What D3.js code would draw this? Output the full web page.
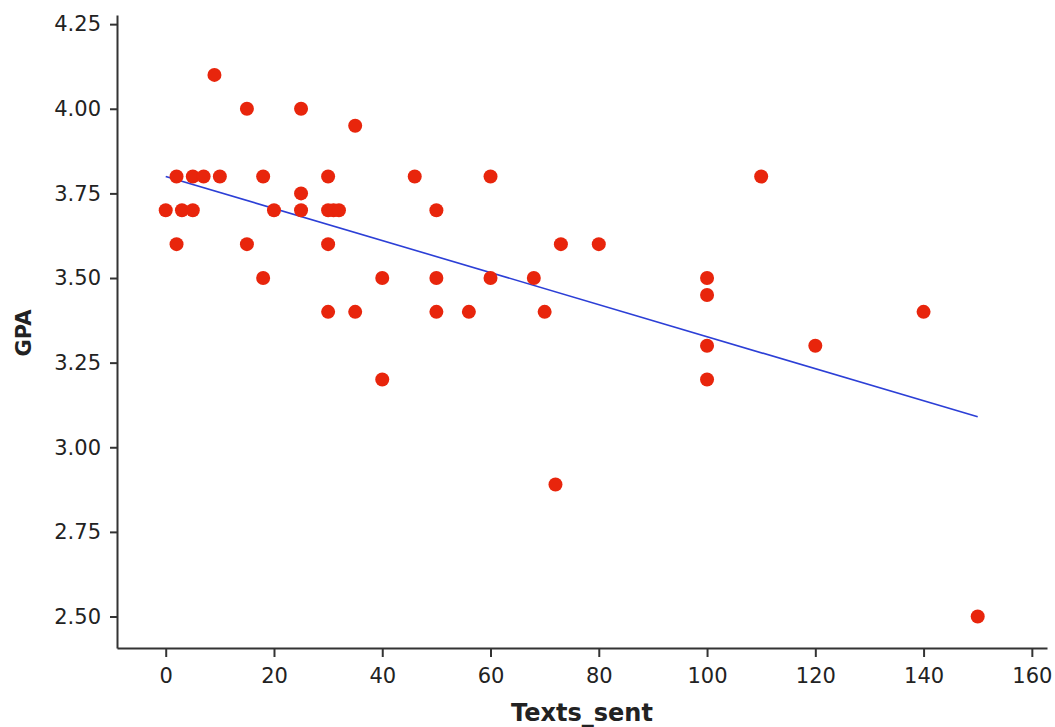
<!DOCTYPE html>
<html>
<head>
<meta charset="utf-8">
<script src="https://cdn.jsdelivr.net/npm/d3@7"></script>
<style>
  body { margin: 0; background: #fff; }
  text { font-family: "DejaVu Sans", Verdana, sans-serif; fill: #222; }
</style>
</head>
<body>
<svg id="chart" width="1055" height="727"></svg>
<script>
// data
let textsSent = [0, 2, 2, 3, 5, 5, 7, 9, 10, 15, 15, 18, 18, 20, 25, 25, 25, 30, 30, 31, 32, 30, 30,
                 35, 35, 40, 40, 46, 50, 50, 50, 56, 60, 60, 68, 70, 72, 73, 80,
                 100, 100, 100, 100, 110, 120, 140, 150];
let gpa = [3.70, 3.80, 3.60, 3.70, 3.80, 3.70, 3.80, 4.10, 3.80, 4.00, 3.60, 3.80, 3.50, 3.70, 4.00, 3.75, 3.70, 3.80, 3.70, 3.70, 3.70, 3.60, 3.40,
           3.95, 3.40, 3.50, 3.20, 3.80, 3.70, 3.50, 3.40, 3.40, 3.80, 3.50, 3.50, 3.40, 2.89, 3.60, 3.60,
           3.50, 3.45, 3.30, 3.20, 3.80, 3.30, 3.40, 2.50];
let fitX = [0, 150];
let fitY = [3.80, 3.09];
let xTicks = [0, 20, 40, 60, 80, 100, 120, 140, 160];
let yTicks = [2.50, 2.75, 3.00, 3.25, 3.50, 3.75, 4.00, 4.25];

let svg = d3.select("#chart");

let x = d3.scaleLinear().domain([-9, 162.8]).range([117, 1047]);
let y = d3.scaleLinear().domain([2.407, 4.277]).range([648, 15]);

let xAxis = svg.append("g")
    .attr("transform", "translate(0,648)")
    .call(d3.axisBottom(x).tickValues(xTicks).tickSize(9).tickPadding(11).tickSizeOuter(0));
let yAxis = svg.append("g")
    .attr("transform", "translate(117,0)")
    .call(d3.axisLeft(y).tickValues(yTicks).tickFormat(d3.format(".2f")).tickSize(7).tickPadding(9).tickSizeOuter(0));

for (let ax of [xAxis, yAxis]){
    ax.select(".domain").attr("stroke", "#333").attr("stroke-width", 2);
    ax.selectAll(".tick line").attr("stroke", "#333").attr("stroke-width", 2);
    ax.selectAll(".tick text").attr("font-size", 21).attr("fill", "#222")
        .attr("font-family", "\"DejaVu Sans\", Verdana, sans-serif");
}

// fitted line
svg.append("path")
    .attr("d", d3.line()(fitX.map((v, i) => [x(v), y(fitY[i])])))
    .attr("fill", "none")
    .attr("stroke", "#2c3fd6")
    .attr("stroke-width", 1.6);

// points
svg.selectAll(".dot")
    .data(textsSent.map((v, i) => [v, gpa[i]]))
    .enter().append("circle")
    .attr("class", "dot")
    .attr("cx", d => x(d[0]))
    .attr("cy", d => y(d[1]))
    .attr("r", 7)
    .attr("fill", "#e8250c");

svg.append("text")
    .attr("x", 582)
    .attr("y", 721)
    .attr("text-anchor", "middle")
    .attr("font-size", 24)
    .attr("font-weight", "bold")
    .text("Texts_sent");

svg.append("text")
    .attr("transform", "translate(31,333) rotate(-90)")
    .attr("text-anchor", "middle")
    .attr("font-size", 21)
    .attr("font-weight", "bold")
    .text("GPA");
</script>
</body>
</html>
